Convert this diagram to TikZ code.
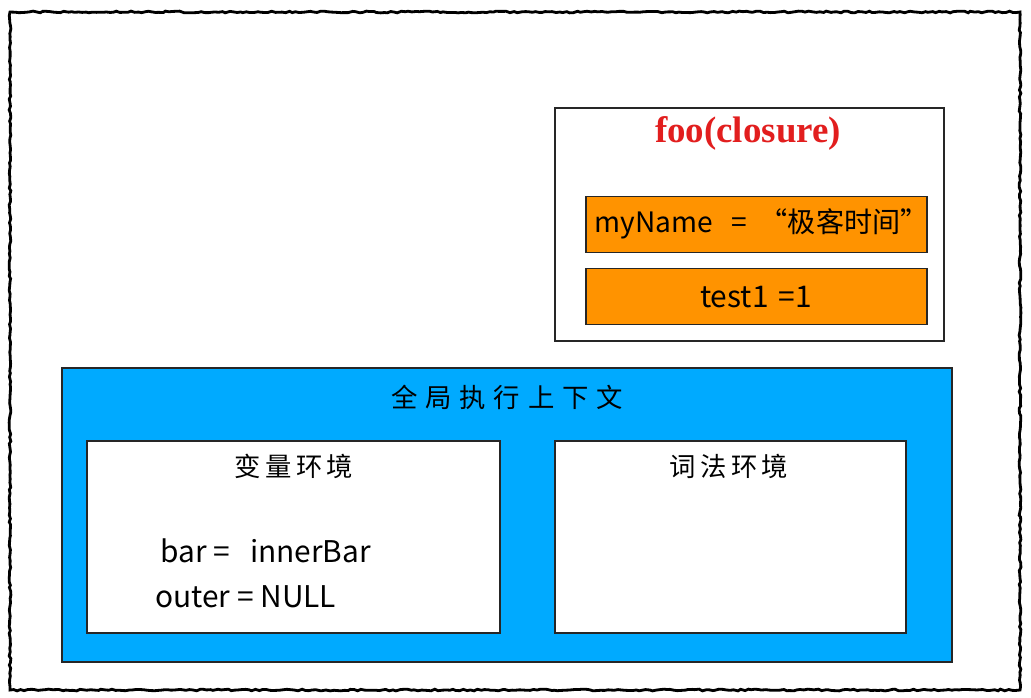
\documentclass[tikz,border=0pt]{standalone}
\usepackage{fontspec}
\setmainfont{Noto Sans CJK SC}
\newfontfamily\titlefont{Liberation Serif}
\usetikzlibrary{decorations.pathmorphing}
\definecolor{ctxblue}{RGB}{0,170,255}
\definecolor{varorange}{RGB}{255,147,0}
\definecolor{titlered}{RGB}{226,30,30}
\begin{document}
\begin{tikzpicture}[
                x=0.02cm, y=-0.02cm,
                frame/.style={
                    draw=black,
                    line width=1.6pt,
                    decorate,
                    decoration={random steps, segment length=2pt, amplitude=0.5pt}
                },
                panel/.style={
                    draw=black!85,
                    line width=1pt,
                    rectangle,
                    inner sep=0pt
                },
                closurebox/.style={
                    panel,
                    fill=white,
                    minimum width=7.78cm,
                    minimum height=4.66cm
                },
                varbox/.style={
                    panel,
                    fill=varorange,
                    minimum width=6.82cm,
                    minimum height=1.12cm
                },
                ctxbox/.style={
                    panel,
                    fill=ctxblue,
                    minimum width=17.8cm,
                    minimum height=5.88cm
                },
                envbox/.style={
                    panel,
                    fill=white,
                    minimum height=3.84cm
                },
                label/.style={
                    font=\fontsize{15}{17}\selectfont,
                    inner sep=0pt
                },
                code/.style={
                    font=\fontsize{17}{19}\selectfont,
                    inner sep=0pt
                }
            ]
    \useasboundingbox (0,0) rectangle (1031,697);
    \draw[frame] (10,12) rectangle (1020,690);

    % closure
    \node[closurebox] (closure) at (749.5,224.5) {};
    \node[font=\titlefont\bfseries\fontsize{21}{23}\selectfont, text=titlered, inner sep=0pt] (closureTitle) at (748,133) {foo(closure)};
    \node[varbox] (myNameVar) at (756.5,224.5) {};
    \node[varbox] (testVar) at (756.5,296.5) {};
    \node[code, font=\fontsize{16}{18}\selectfont, anchor=west] (myNameText) at (594,224) {myName\ \ \ =\ \ “极客时间”};
    \node[code] (testText) at (756,297) {test1\hspace{2pt} =1};

    % global execution context
    \node[ctxbox] (globalCtx) at (507,515) {};
    \node[label] (globalTitle) at (507,397) {全\hspace{4.5pt}局\hspace{4.5pt}执\hspace{4.5pt}行\hspace{4.5pt}上\hspace{4.5pt}下\hspace{4.5pt}文};
    \node[envbox, minimum width=8.26cm] (varEnv) at (293.5,537) {};
    \node[envbox, minimum width=7.02cm] (lexEnv) at (730.5,537) {};
    \node[label] (varTitle) at (294,466) {变\hspace{2.5pt}量\hspace{2.5pt}环\hspace{2.5pt}境};
    \node[label] (lexTitle) at (729,466) {词\hspace{2.5pt}法\hspace{2.5pt}环\hspace{2.5pt}境};
    \node[code, anchor=west] (barText) at (160,551) {bar =\ \ \ innerBar};
    \node[code, anchor=west] (outerText) at (155,597) {outer = NULL};
\end{tikzpicture}
\end{document}
